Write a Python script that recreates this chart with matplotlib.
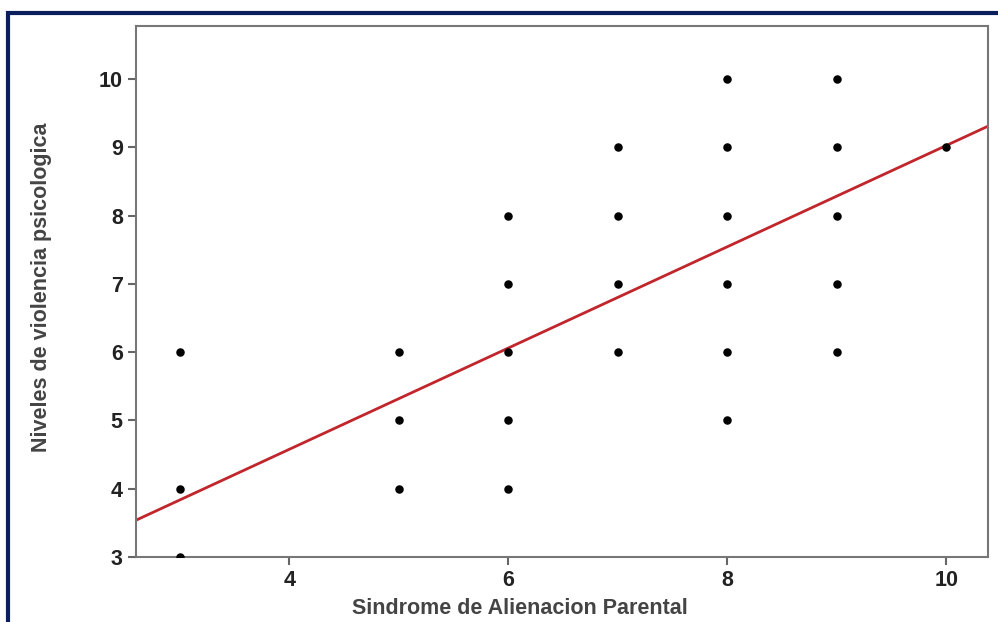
import matplotlib.pyplot as plt
from matplotlib.patches import Rectangle

# scatter data (Sindrome de Alienacion Parental vs Niveles de violencia psicologica)
sap = [3, 3, 3, 5, 5, 5, 6, 6, 6, 6, 6, 7, 7, 7, 7,
       8, 8, 8, 8, 8, 8, 9, 9, 9, 9, 9, 10]
violencia = [3, 4, 6, 4, 5, 6, 4, 5, 6, 7, 8, 6, 7, 8, 9,
             5, 6, 7, 8, 9, 10, 6, 7, 8, 9, 10, 9]

# linear fit line
fit_slope = 0.742
fit_intercept = 1.61

x_ticks = [4, 6, 8, 10]
y_ticks = [3, 4, 5, 6, 7, 8, 9, 10]

plt.rcParams['font.family'] = ['Liberation Sans', 'DejaVu Sans']
plt.rcParams['font.weight'] = 'bold'

fig = plt.figure(figsize=(9.98, 6.22), dpi=100)
ax = fig.add_axes([136 / 998, 65 / 622, 852 / 998, 531 / 622])

# navy frame round the figure
fig.patches.append(Rectangle((8 / 998, -0.1), 1.1, 0.1 + (622 - 13) / 622,
                             transform=fig.transFigure, fill=False,
                             edgecolor='#0b1f5c', linewidth=3))

ax.scatter(sap, violencia, s=26, color='black', zorder=3)

xmin, xmax = 2.6, 10.38
ax.plot([xmin, xmax], [fit_intercept + fit_slope * xmin, fit_intercept + fit_slope * xmax],
        color='#c0262b', linewidth=2, zorder=2)

ax.set_xlim(xmin, xmax)
ax.set_ylim(3, 10.78)
ax.set_xticks(x_ticks)
ax.set_yticks(y_ticks)

for s in ax.spines.values():
    s.set_color('#777777')
    s.set_linewidth(1.5)
ax.tick_params(direction='out', length=6, width=1.5, color='#666666',
               labelsize=15.5, labelcolor='#222222')
for lab in ax.get_xticklabels() + ax.get_yticklabels():
    lab.set_fontweight('bold')

ax.set_xlabel('Sindrome de Alienacion Parental', fontsize=15.5, fontweight='bold',
              color='#444444')
ax.set_ylabel('Niveles de violencia psicologica', fontsize=15.5, fontweight='bold',
              color='#444444')
ax.xaxis.set_label_coords(0.451, -0.077)
ax.yaxis.set_label_coords(-0.099, 0.508)

fig.savefig('out.png', dpi=100)
